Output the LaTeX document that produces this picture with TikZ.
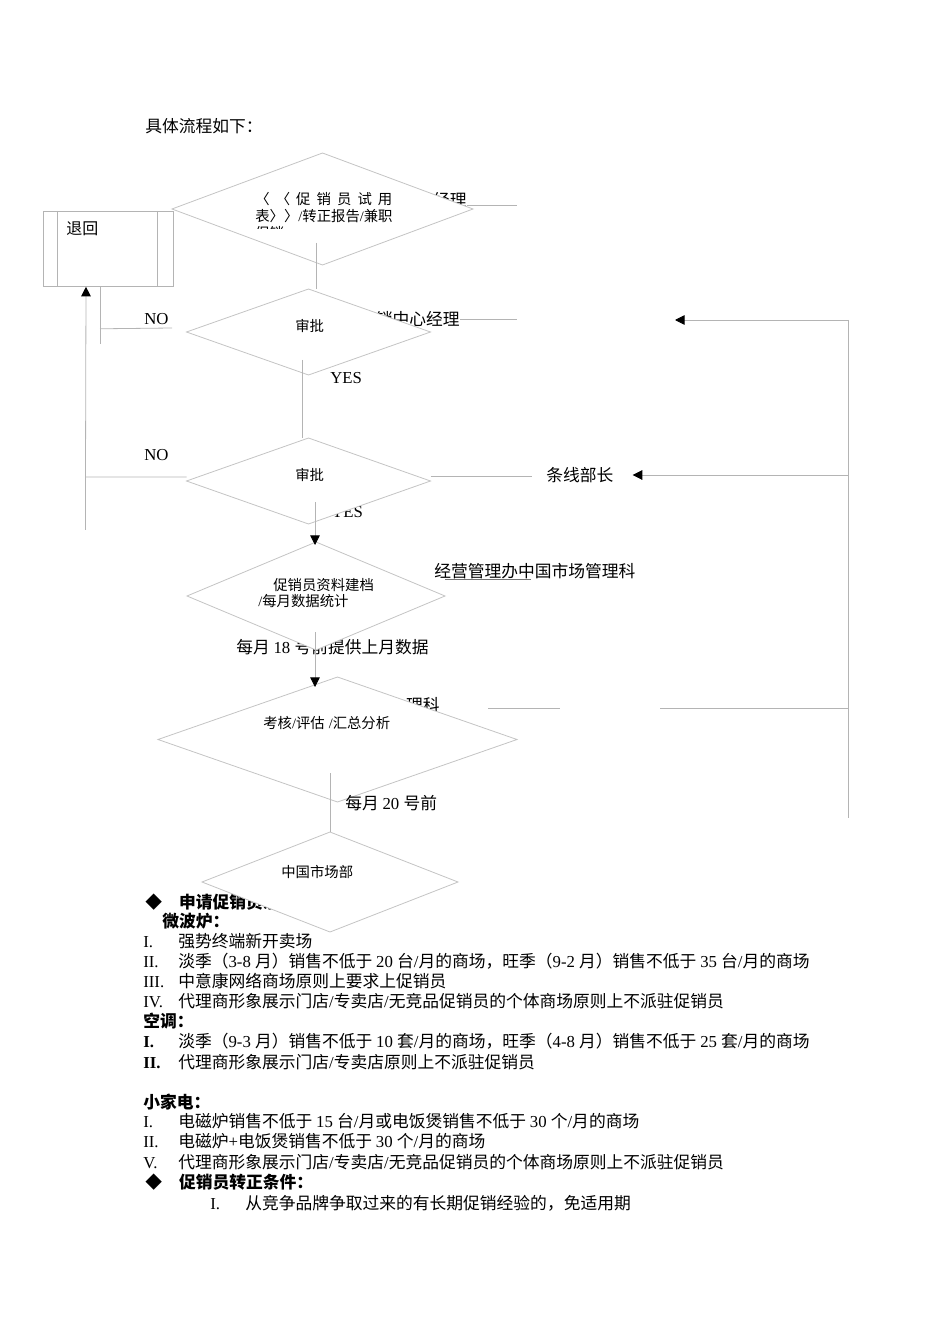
\documentclass[tikz,border=0pt]{standalone}
\usepackage{fontspec}
\setmainfont{Liberation Serif}
\newfontfamily\cjkfont{Noto Sans CJK SC}
\usetikzlibrary{positioning,arrows.meta,calc,shapes.geometric}
% switch to the CJK face for Chinese characters
\XeTeXinterchartokenstate=1
\newXeTeXintercharclass\CJKcls
\newcount\cjkc
\cjkc="4E00
\loop \XeTeXcharclass\cjkc=\CJKcls \ifnum\cjkc<"9FFF \advance\cjkc by 1 \repeat
\cjkc="3000
\loop \XeTeXcharclass\cjkc=\CJKcls \ifnum\cjkc<"303F \advance\cjkc by 1 \repeat
\cjkc="FF00
\loop \XeTeXcharclass\cjkc=\CJKcls \ifnum\cjkc<"FFEF \advance\cjkc by 1 \repeat
\XeTeXcharclass"25C6=\CJKcls
\XeTeXinterchartoks 0 \CJKcls={\cjkfont}
\XeTeXinterchartoks 4095 \CJKcls={\cjkfont}
\XeTeXinterchartoks \CJKcls 0={\rmfamily}
\XeTeXinterchartoks 4095 0={\rmfamily}
\newlength\px \setlength\px{0.6265pt}
\newcommand\wuhao{\fontsize{10.5pt}{12.6pt}\selectfont}
\newcommand\xiaohao{\fontsize{9pt}{10.65pt}\selectfont}
\newcommand\rowitem[2]{\makebox[35\px][l]{#1}#2}
\definecolor{linegray}{HTML}{B4B4B4}
\definecolor{shapegray}{HTML}{C4C4C4}

\begin{document}
\begin{tikzpicture}[x=1\px,y=-1\px,
 dmd/.style={diamond,draw=shapegray,fill=white,line width=.5pt,inner sep=0pt,outer sep=0pt},
 ln/.style={draw=linegray,line width=.5pt},
 arr/.style={ln,-{Triangle[length=6pt,width=6pt,black]}},
 txt/.style={anchor=west,inner sep=0pt,font=\wuhao},
 dtxt/.style={anchor=west,inner sep=0pt,font=\xiaohao}]
\useasboundingbox (0,0) rectangle (950,1344);
\node[txt] (title) at (145,126) {具体流程如下：};
% texts that the shapes partly cover
\node[txt,anchor=east] (mgrA) at (467,200) {经理};
\node[txt,anchor=east] (mgrB) at (460,319) {销中心经理};
\node[txt] (yesB) at (331,512) {YES};
\node[txt] (data18) at (236,647) {每月 18 号前提供上月数据};
\node[txt,anchor=east] (sect) at (440,705) {理科};
\node[txt,font=\wuhao\bfseries] (condA) at (145,902) {◆\hspace{17\px}申请促销员条件：};
% flow shapes
\node[dmd,minimum width=301\px,minimum height=112\px] (apply) at (322.5,209) {};
\node[dmd,minimum width=244\px,minimum height=86\px] (check1) at (308.5,332) {};
\node[dmd,minimum width=244\px,minimum height=86\px] (check2) at (308.5,481) {};
\node[dmd,minimum width=258\px,minimum height=108\px] (archive) at (316,596) {};
\node[dmd,minimum width=359\px,minimum height=125\px] (assess) at (337.5,739.5) {};
\node[dmd,minimum width=256\px,minimum height=100\px] (market) at (330,882) {};
\node[ln,draw,anchor=north west,inner sep=0pt,minimum width=130\px,minimum height=75\px] (back) at (43,211) {};
\draw[ln] ([xshift=14\px]back.north west) -- ([xshift=14\px]back.south west);
\draw[ln] ([xshift=-16\px]back.north east) -- ([xshift=-16\px]back.south east);
\node[txt,font=\fontsize{10pt}{12pt}\selectfont] (backtxt) at (66,229) {退回};
\begin{scope}
\clip (240,185) rectangle (420,229);
\node[dtxt,anchor=north west,align=left] (applytxt) at (255,192)
 {\makebox[137\px][s]{〈 〈 促 销 员 试 用}\\表〉〉/转正报告/兼职\\促销};
\end{scope}
\node[dtxt] (check1txt) at (295,326) {审批};
\node[dtxt] (check2txt) at (295,475) {审批};
\node[dtxt] (archivetxt) at (273,585) {促销员资料建档};
\node[dtxt] (archivetxt2) at (258,601) {/每月数据统计};
\node[dtxt] (assesstxt) at (263,723) {考核/评估\hspace{4\px}/汇总分析};
\node[dtxt] (markettxt) at (281,872) {中国市场部};
% labels
\node[txt] (noA) at (144,319) {NO};
\node[txt] (noB) at (144,455) {NO};
\node[txt] (yesA) at (330,378) {YES};
\node[txt] (chief) at (546,475) {条线部长};
\node[txt] (office) at (434,571) {经营管理办中国市场管理科};
\draw[black!55,line width=.4pt] ($(office.west)+(11,8)$) -- ($(office.west)+(97,8)$);
\node[txt] (day20) at (345,803) {每月 20 号前};
% main line down
\draw[ln] ($(apply.south)+(-6.5,-22)$) coordinate (a1) -- (a1 |- check1.north);
\draw[ln] ($(check1.south)+(-6.5,-15)$) coordinate (a2) -- (a2 |- check2.north);
\draw[arr] ($(check2.south)+(6.5,-22)$) coordinate (a3) -- ($(a3 |- archive.north)+(0,3)$);
\draw[arr] ($(archive.south)+(-1,-18)$) coordinate (a4) -- ($(a4 |- assess.north)+(0,10)$);
\draw[ln] ($(assess.south)+(-7.5,-29)$) coordinate (a5) -- (a5 |- market.north);
% NO branches
\draw[ln] ($(check1.west)+(-14.5,-4)$) -- ($(back.south west)+(57,42)$);
\draw[ln] ($(back.south west)+(57,0)$) -- ++(0,57);
\draw[arr] ($(check2.west)+(0,-4)$) -- ++(-101,0) coordinate (nocorner)
 -- ($(back.south west)+(43,0)$);
\draw[ln] (nocorner) -- ++(0,53);
% right side
\draw[ln] (mgrA.east |- 0,205) -- ++(50,0);
\draw[ln] (mgrB.east) -- ++(57,0);
\draw[ln] ($(check2.east)+(0,-5)$) -- ($(chief.west)+(-14,1)$);
\coordinate (rtop) at (848,320);
\coordinate (rbot) at (848,818);
\draw[ln] (rtop) -- (rbot);
\draw[arr] (rtop) -- ++(-173,0);
\draw[arr] (rtop |- chief) -- ($(chief.east)+(19,0)$);
\draw[ln] (rtop |- 0,708) -- ++(-188,0);
\draw[ln] ($(sect.east)+(48,3)$) -- ++(72,0);
% conditions text
\node[txt,font=\wuhao\bfseries] (mw) at (162,921) {微波炉：};
\node[txt] (mw1) at (143,941) {\rowitem{I.}{强势终端新开卖场}};
\node[txt] (mw2) at (143,961) {\rowitem{II.}{淡季（3-8 月）销售不低于 20 台/月的商场，旺季（9-2 月）销售不低于 35 台/月的商场}};
\node[txt] (mw3) at (143,981) {\rowitem{III.}{中意康网络商场原则上要求上促销员}};
\node[txt] (mw4) at (143,1001) {\rowitem{IV.}{代理商形象展示门店/专卖店/无竞品促销员的个体商场原则上不派驻促销员}};
\node[txt,font=\wuhao\bfseries] (ac) at (143,1021) {空调：};
\node[txt] (ac1) at (143,1041) {\rowitem{\textbf{I.}}{淡季（9-3 月）销售不低于 10 套/月的商场，旺季（4-8 月）销售不低于 25 套/月的商场}};
\node[txt] (ac2) at (143,1062) {\rowitem{\textbf{II.}}{代理商形象展示门店/专卖店原则上不派驻促销员}};
\node[txt,font=\wuhao\bfseries] (sm) at (143,1102) {小家电：};
\node[txt] (sm1) at (143,1121) {\rowitem{I.}{电磁炉销售不低于 15 台/月或电饭煲销售不低于 30 个/月的商场}};
\node[txt] (sm2) at (143,1141) {\rowitem{II.}{电磁炉+电饭煲销售不低于 30 个/月的商场}};
\node[txt] (sm3) at (143,1162) {\rowitem{V.}{代理商形象展示门店/专卖店/无竞品促销员的个体商场原则上不派驻促销员}};
\node[txt,font=\wuhao\bfseries] (condB) at (145,1182) {◆\hspace{17\px}促销员转正条件：};
\node[txt] (cb1) at (210,1203) {\rowitem{I.}{从竞争品牌争取过来的有长期促销经验的，免适用期}};
\end{tikzpicture}
\end{document}
